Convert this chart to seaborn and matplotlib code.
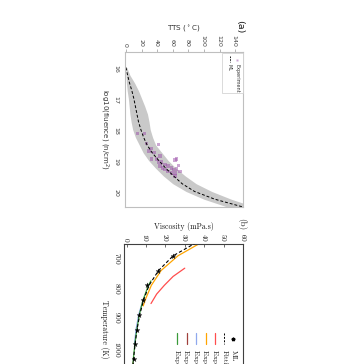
import matplotlib
matplotlib.use("Agg")
import matplotlib.pyplot as plt
from matplotlib.lines import Line2D
from matplotlib.patches import Rectangle
import seaborn as sns

# ---- panel (a): TTS vs log10(fluence) ----
fluence_ml = [16.0, 16.25, 16.5, 16.75, 17.0, 17.25, 17.5, 17.75, 18.0, 18.25,
              18.5, 18.75, 19.0, 19.25, 19.5, 19.75, 20.0, 20.25, 20.5]
tts_ml = [0, 2, 4.5, 7.5, 10, 12, 14, 16, 19, 22.5,
          27, 33.5, 42, 51, 61, 72, 88, 114, 150]
tts_low = [0, 0, 0.5, 1.5, 3, 4, 5, 6.5, 8.5, 12,
           17, 22, 29, 38, 48, 60, 77, 100, 130]
tts_high = [1, 5, 11, 16, 20, 24, 27.5, 29.5, 31, 34,
            38, 46, 54, 64, 76, 90, 110, 135, 165]
fluence_exp = [18.13, 18.13, 18.45, 18.48, 18.62, 18.7, 18.75, 18.95, 18.95, 18.86,
               19.05, 19.05, 19.18, 19.13, 19.24, 19.18, 19.24, 18.99, 18.95, 19.29,
               19.27, 19.4, 19.4, 19.16, 19.35, 19.5, 19.29, 19.35]
tts_exp = [15, 23.5, 26.5, 41.5, 32, 29.5, 36, 33, 39, 43.6,
           41.5, 45.5, 43.6, 50, 46.5, 54, 58.5, 63, 65, 60.7,
           65, 63, 58.5, 67, 54, 63, 50, 69]
tts_ticks = [0, 20, 40, 60, 80, 100, 120, 140]
fluence_ticks = [16, 17, 18, 19, 20]

# ---- panel (b): viscosity vs temperature ----
temp_ml = [700, 750, 800, 850, 900, 950, 1000, 1050]
visc_ml = [24, 16, 10.3, 8.5, 6.5, 5.3, 4.4, 3.6]
temp_fit = [655, 700, 750, 800, 850, 900, 950, 1000, 1050, 1100, 1150, 1200, 1250]
visc_fit = [36, 24, 16.5, 11.6, 8.8, 6.8, 5.4, 4.4, 3.6, 3.0, 2.6, 2.2, 1.9]
temp_exp1 = [742, 770, 800, 830, 862]
visc_exp1 = [30, 24, 19.5, 15.5, 12.6]
temp_exp2 = [655, 700, 750, 800, 850, 870]
visc_exp2 = [38.5, 26.5, 17.8, 12.8, 9.6, 8.6]
temp_exp3 = [845, 870, 900, 950, 1000]
visc_exp3 = [9.0, 7.6, 6.3, 4.9, 4.1]
temp_exp4 = [1060, 1100, 1150, 1200]
visc_exp4 = [3.4, 3.0, 2.6, 2.3]
temp_exp5 = [785, 800, 850, 900, 950, 1000, 1050, 1100]
visc_exp5 = [12.6, 11.3, 8.5, 6.6, 5.3, 4.3, 3.5, 2.9]
exp_labels = ["Exp. [1]", "Exp. [2]", "Exp. [3]", "Exp. [4]", "Exp. [5]"]
exp_colors = ["#ff4d4d", "#ffa500", "#8fa8ee", "#a0403c", "#3a9a3a"]
visc_ticks = [0, 10, 20, 30, 40, 50, 60]
temp_ticks = [700, 800, 900, 1000]

W, H = 356, 364


def fx(px):
    return px / W


def fy(py):
    return 1 - py / H


sns.set_style("white")
plt.rcParams["font.family"] = ["DejaVu Sans"]
plt.rcParams["axes.formatter.use_mathtext"] = True

fig = plt.figure(figsize=(W / 100, H / 100), dpi=100)

# panel (a), drawn already turned a quarter clockwise
ax1 = fig.add_axes([fx(125), fy(207), (243 - 125) / W, (207 - 52) / H])
ax1.fill_betweenx(fluence_ml, tts_low, tts_high, color="#c9c9c9", lw=0)
sns.lineplot(x=tts_ml, y=fluence_ml, sort=False, color="black", lw=0.7,
             linestyle=(0, (3, 2)), ax=ax1)
sns.scatterplot(x=tts_exp, y=fluence_exp, color="#9b4fa8", alpha=0.5, s=6,
                marker="s", edgecolor="none", ax=ax1)
ax1.set_xlim(-1.3, 150)
ax1.set_ylim(20.5, 15.5)
ax1.set_xticks(tts_ticks)
ax1.set_yticks(fluence_ticks)
ax1.xaxis.tick_top()
ax1.xaxis.set_label_position("top")
ax1.tick_params(axis="both", labelsize=4.5, length=2, width=0.5, color="0.6",
                pad=1, labelrotation=270, labelcolor="0.25", direction="out")
for sp in ax1.spines.values():
    sp.set_color("0.75")
    sp.set_linewidth(0.8)
ax1.set_xlabel("TTS ($^\\circ$C)", fontsize=5.2, color="0.2", labelpad=2.5)
ax1.set_ylabel("log10(fluence) (n/cm$^2$)", fontsize=5.0, color="0.2",
               rotation=270, va="top", labelpad=1.5)

# legend of panel (a)
fig.add_artist(Rectangle((fx(221.7), fy(93.3)), 21.3 / W, 40 / H,
                         transform=fig.transFigure, facecolor="white",
                         edgecolor="0.8", lw=0.5))
fig.add_artist(Line2D([fx(236.7)], [fy(59.5)], marker="s", ms=1.8,
                      color="#9b4fa8", alpha=0.5, mec="none",
                      transform=fig.transFigure))
fig.add_artist(Line2D([fx(229.5), fx(229.5)], [fy(55.5), fy(62)], color="black",
                      lw=0.6, linestyle=(0, (2, 1.2)), transform=fig.transFigure))
fig.text(fx(236.7), fy(63.5), "Experiment", rotation=270, rotation_mode="anchor",
         ha="left", va="center", fontsize=3.5, color="0.2")
fig.text(fx(229.5), fy(63.5), "ML", rotation=270, rotation_mode="anchor",
         ha="left", va="center", fontsize=3.5, color="0.2")
fig.text(fx(240), fy(27), "(a)", rotation=270, ha="center", va="center",
         fontsize=6.8, color="0.1")

# panel (b), same quarter turn
serif = "cmr10"
ax2 = fig.add_axes([fx(124), fy(415), (243 - 124) / W, (415 - 244) / H])
sns.lineplot(x=visc_fit, y=temp_fit, sort=False, color="black", lw=0.8,
             linestyle=(0, (3, 2)), ax=ax2, zorder=4)
exp_series = [(temp_exp1, visc_exp1), (temp_exp2, visc_exp2), (temp_exp3, visc_exp3),
              (temp_exp4, visc_exp4), (temp_exp5, visc_exp5)]
for (t, v), c in zip(exp_series, exp_colors):
    sns.lineplot(x=v, y=t, sort=False, color=c, lw=0.9, ax=ax2)
sns.scatterplot(x=visc_ml, y=temp_ml, marker="*", s=14, color="black",
                edgecolor="black", lw=0.2, ax=ax2, zorder=5)
ax2.set_xlim(-1.3, 60)
ax2.set_ylim(1240, 660)
ax2.set_xticks(visc_ticks)
ax2.set_yticks(temp_ticks)
ax2.xaxis.tick_top()
ax2.xaxis.set_label_position("top")
ax2.tick_params(axis="both", labelsize=5.3, length=2.5, width=0.5, color="0.2",
                pad=1.5, labelrotation=270, labelcolor="0.1", direction="in",
                labelfontfamily=serif)
for sp in ax2.spines.values():
    sp.set_color("0.25")
    sp.set_linewidth(0.8)
ax2.set_xlabel("Viscosity (mPa.s)", fontsize=5.6, fontfamily=serif, color="0.1",
               labelpad=3)
ax2.set_ylabel("Temperature (K)", fontsize=5.6, fontfamily=serif, color="0.1",
               rotation=270, va="top", labelpad=3)
fig.text(fx(242), fy(224), "(b)", rotation=270, ha="center", va="center",
         fontsize=6.5, fontfamily=serif, color="0.1")

# legend of panel (b)
leg_x = [233.3, 224.3, 215, 205.7, 196, 186.7, 177.3]
leg_labels = ["ML", "Fitting"] + exp_labels
fig.add_artist(Line2D([fx(leg_x[0])], [fy(339)], marker="*", ms=2.6, color="black",
                      transform=fig.transFigure))
fig.add_artist(Line2D([fx(leg_x[1])] * 2, [fy(333), fy(344)], color="black", lw=0.7,
                      linestyle=(0, (2, 1.5)), transform=fig.transFigure))
for xp, c in zip(leg_x[2:], exp_colors):
    fig.add_artist(Line2D([fx(xp)] * 2, [fy(333), fy(344)], color=c, lw=0.9,
                          transform=fig.transFigure))
for xp, lab in zip(leg_x, leg_labels):
    fig.text(fx(xp), fy(350), lab, rotation=270, rotation_mode="anchor", ha="left",
             va="center", fontsize=5.3, fontfamily=serif, color="0.1")

fig.savefig("out.png", dpi=100)
